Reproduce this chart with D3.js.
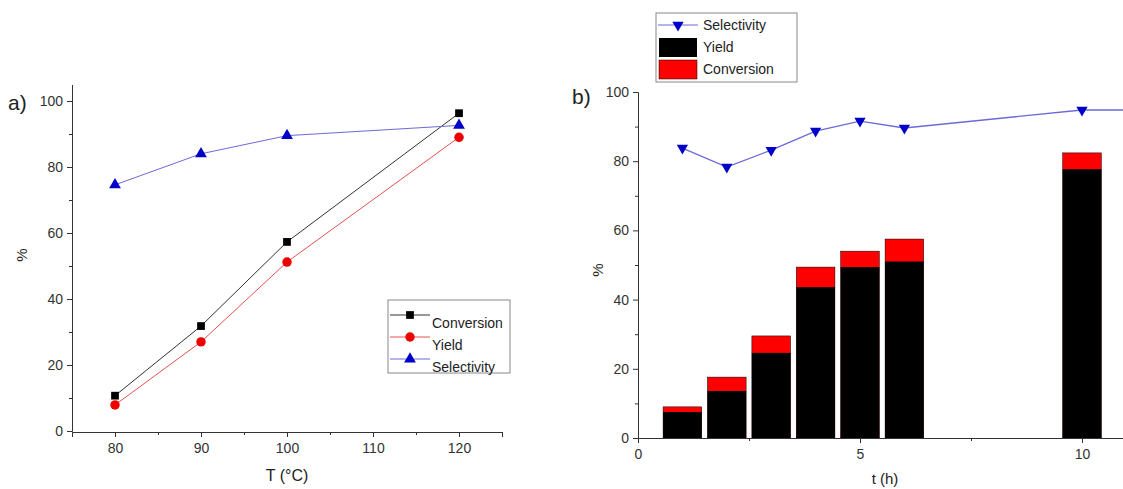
<!DOCTYPE html>
<html>
<head>
<meta charset="utf-8">
<script src="https://cdn.jsdelivr.net/npm/d3@7"></script>
<style>
  body { margin: 0; background: #fff; }
  svg { display: block; font-family: "Liberation Sans", Arial, sans-serif; }
  .axis path, .axis line { stroke: #333; }
  .axis text { fill: #333; font-size: 14px; }
</style>
</head>
<body>
<svg id="chart" width="1123" height="489"></svg>
<script>
// panel a) – temperature series
const temps = [80, 90, 100, 120];
const convA = [10.7, 31.8, 57.3, 96.3];
const yieldA = [7.9, 27, 51.2, 89];
const selA = [74.6, 84, 89.5, 92.6];

// panel b) – time series
const hours = [1, 2, 3, 4, 5, 6, 10];
const convB = [9, 17.6, 29.5, 49.4, 54, 57.5, 82.4];
const yieldB = [7.5, 13.6, 24.6, 43.6, 49.4, 51, 77.7];
const selHours = [1, 2, 3, 4, 5, 6, 10, 12];
const selB = [83.8, 78.3, 83.2, 88.7, 91.6, 89.6, 94.8, 94.8];

const yTicks = [0, 20, 40, 60, 80, 100];
const yMinor = [10, 30, 50, 70, 90];

const svg = d3.select("#chart");
const blue = "#0000c8";

// ---------- panel a ----------
const xa = d3.scaleLinear([75, 125], [72, 502]);
const ya = d3.scaleLinear([0, 105], [431, 84.5]);

const ga = svg.append("g");
ga.append("g").attr("class", "axis").attr("transform", "translate(0,432)")
  .call(d3.axisBottom(xa).tickValues([80, 90, 100, 110, 120]).tickSizeOuter(0).tickSize(5).tickPadding(6));
ga.append("g").attr("class", "axis").attr("transform", "translate(0,432)")
  .call(d3.axisBottom(xa).tickValues([85, 95, 105, 115, 125]).tickSize(3).tickFormat("").tickSizeOuter(0));
ga.append("g").attr("class", "axis").attr("transform", "translate(72,0)")
  .call(d3.axisLeft(ya).tickValues(yTicks).tickSize(5).tickSizeOuter(0).tickPadding(4));
ga.append("g").attr("class", "axis").attr("transform", "translate(72,0)")
  .call(d3.axisLeft(ya).tickValues(yMinor).tickSize(3).tickFormat("").tickSizeOuter(0));

const seriesA = [
  { name: "Conversion", vals: convA, color: "#000", line: "#333", sym: d3.symbolSquare, size: 60 },
  { name: "Yield", vals: yieldA, color: "#e00", line: "#e85050", sym: d3.symbolCircle, size: 70 },
  { name: "Selectivity", vals: selA, color: blue, line: "#6a6ad8", sym: d3.symbolTriangle, size: 60 },
];
const lineA = d3.line().x((d) => xa(d[0])).y((d) => ya(d[1]));
seriesA.forEach((s) => {
  const pts = temps.map((t, i) => [t, s.vals[i]]);
  ga.append("path").attr("d", lineA(pts)).attr("fill", "none").attr("stroke", s.line).attr("stroke-width", 1);
  ga.selectAll(null).data(pts).join("path")
    .attr("transform", (d) => `translate(${xa(d[0])},${ya(d[1])})`)
    .attr("d", d3.symbol(s.sym, s.size)).attr("fill", s.color);
});

// legend a
const la = ga.append("g").attr("transform", "translate(388,300)");
la.append("rect").attr("width", 122).attr("height", 73).attr("fill", "none").attr("stroke", "#888");
seriesA.forEach((s, i) => {
  const yy = 22 * i + 15;
  la.append("line").attr("x1", 2).attr("x2", 42).attr("y1", yy).attr("y2", yy).attr("stroke", s.line);
  la.append("path").attr("transform", `translate(22,${yy})`).attr("d", d3.symbol(s.sym, s.size)).attr("fill", s.color);
  la.append("text").attr("x", 44).attr("y", yy + 13).attr("font-size", 14).attr("fill", "#222").text(s.name);
});

ga.append("text").attr("x", 8).attr("y", 110).attr("font-size", 21).attr("fill", "#222").text("a)");
ga.append("text").attr("transform", "translate(27,255) rotate(-90)").attr("text-anchor", "middle")
  .attr("font-size", 15).attr("fill", "#222").text("%");
ga.append("text").attr("x", 287).attr("y", 481).attr("text-anchor", "middle")
  .attr("font-size", 16).attr("fill", "#222").text("T (°C)");

// ---------- panel b ----------
const xb = d3.scaleLinear([0, 11], [638, 1126.4]);
const yb = d3.scaleLinear([0, 100], [438, 92]);
const gb = svg.append("g");
const bw = xb(0.87) - xb(0);

gb.selectAll("rect.conv").data(hours).join("rect").attr("class", "conv")
  .attr("x", (d) => xb(d) - bw / 2).attr("width", bw)
  .attr("y", (d, i) => yb(convB[i])).attr("height", (d, i) => yb(0) - yb(convB[i]))
  .attr("fill", "#f00").attr("stroke", "#000").attr("stroke-width", 0.5);
gb.selectAll("rect.yield").data(hours).join("rect").attr("class", "yield")
  .attr("x", (d) => xb(d) - bw / 2).attr("width", bw)
  .attr("y", (d, i) => yb(yieldB[i])).attr("height", (d, i) => yb(0) - yb(yieldB[i]))
  .attr("fill", "#000");

gb.append("g").attr("class", "axis").attr("transform", "translate(0,438)")
  .call(d3.axisBottom(xb).tickValues([0, 5, 10]).tickSize(5).tickSizeOuter(0).tickPadding(6));
gb.append("g").attr("class", "axis").attr("transform", "translate(0,438)")
  .call(d3.axisBottom(xb).tickValues([2.5, 7.5]).tickSize(3).tickFormat("").tickSizeOuter(0));
gb.append("g").attr("class", "axis").attr("transform", "translate(638,0)")
  .call(d3.axisLeft(yb).tickValues(yTicks).tickSize(5).tickSizeOuter(0).tickPadding(4));
gb.append("g").attr("class", "axis").attr("transform", "translate(638,0)")
  .call(d3.axisLeft(yb).tickValues(yMinor).tickSize(3).tickFormat("").tickSizeOuter(0));

const selPts = selHours.map((t, i) => [t, selB[i]]);
gb.append("path").attr("d", d3.line().x((d) => xb(d[0])).y((d) => yb(d[1]))(selPts))
  .attr("fill", "none").attr("stroke", "#6a6ad8").attr("stroke-width", 1.3);
const triDown = d3.symbol(d3.symbolTriangle, 55);
gb.selectAll(null).data(selPts.filter((d) => d[0] <= 10)).join("path")
  .attr("transform", (d) => `translate(${xb(d[0])},${yb(d[1])}) rotate(180)`)
  .attr("d", triDown).attr("fill", blue);

// legend b
const lb = gb.append("g").attr("transform", "translate(656,13)");
lb.append("rect").attr("width", 141).attr("height", 69).attr("fill", "none").attr("stroke", "#888");
lb.append("line").attr("x1", 2).attr("x2", 42).attr("y1", 12).attr("y2", 12).attr("stroke", "#6a6ad8");
lb.append("path").attr("transform", "translate(22,12) rotate(180)").attr("d", triDown).attr("fill", blue);
lb.append("rect").attr("x", 3).attr("y", 25).attr("width", 38).attr("height", 19).attr("fill", "#000");
lb.append("rect").attr("x", 3).attr("y", 47).attr("width", 38).attr("height", 19).attr("fill", "#f00").attr("stroke", "#000").attr("stroke-width", 0.5);
["Selectivity", "Yield", "Conversion"].forEach((t, i) => {
  lb.append("text").attr("x", 47).attr("y", 17 + 22 * i).attr("font-size", 14).attr("fill", "#222").text(t);
});

gb.append("text").attr("x", 572).attr("y", 104).attr("font-size", 21).attr("fill", "#222").text("b)");
gb.append("text").attr("transform", "translate(603,270) rotate(-90)").attr("text-anchor", "middle")
  .attr("font-size", 15).attr("fill", "#222").text("%");
gb.append("text").attr("x", 885).attr("y", 484).attr("text-anchor", "middle")
  .attr("font-size", 15).attr("fill", "#222").text("t (h)");
</script>
</body>
</html>
